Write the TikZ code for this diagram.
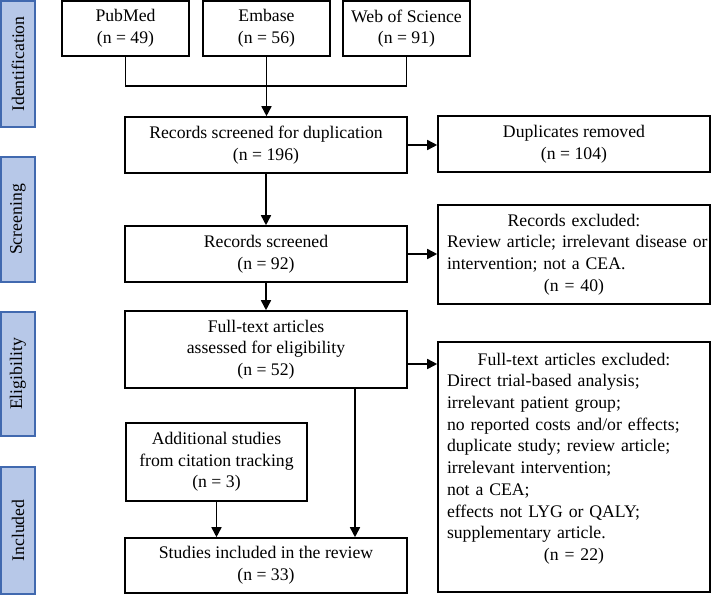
\documentclass[tikz,border=0pt]{standalone}
\usepackage{fontspec}
\setmainfont{Liberation Serif}
\usetikzlibrary{arrows.meta}
\definecolor{barfill}{RGB}{183,200,232}
\definecolor{barline}{RGB}{65,105,175}
\begin{document}
\begin{tikzpicture}[x=1pt,y=-1pt,
  font=\fontsize{17.7}{21.7}\selectfont,
  box/.style={draw, line width=1.6pt, inner sep=0pt, align=center},
  bar/.style={draw=barline, fill=barfill, line width=1.6pt, inner sep=0pt, rotate=90, minimum height=34pt},
  arr/.style={line width=1.6pt, -{Triangle[length=10pt,width=10pt]}},
  link/.style={line width=1.6pt}]
\useasboundingbox (0,0) rectangle (711,595);

% side bars
\node[bar, minimum width=126pt] (bid) at (18,64) {Identification};
\node[bar, minimum width=125pt] (bsc) at (18,219.5) {Screening};
\node[bar, minimum width=124pt] (bel) at (18,374) {Eligibility};
\node[bar, minimum width=127pt] (bin) at (18,530.5) {Included};

% boxes
\node[box, minimum width=127pt, minimum height=55pt] (pub) at (125.5,28.5) {PubMed\\(n = 49)};
\node[box, minimum width=127pt, minimum height=55pt] (emb) at (266.5,28.5) {Embase\\(n = 56)};
\node[box, minimum width=127pt, minimum height=55pt] (wos) at (406.5,28.5) {Web of Science\\(n = 91)};
\node[box, minimum width=282pt, minimum height=56pt] (dup) at (266,145) {Records screened for duplication\\(n = 196)};
\node[box, minimum width=272pt, minimum height=56pt] (dupr) at (574,144) {Duplicates removed\\(n = 104)};
\node[box, minimum width=282pt, minimum height=56pt] (scr) at (266,254) {Records screened\\(n = 92)};
\node[box, minimum width=272pt, minimum height=99pt, text width=254pt, align=left] (excl) at (574,254.5)
  {\makebox[254pt][c]{Records excluded:}\\
   \mbox{Review article; irrelevant disease or}\\
   \mbox{intervention; not a CEA.}\\
   \makebox[254pt][c]{(n = 40)}};
\node[box, minimum width=282pt, minimum height=77pt] (full) at (266,349.5) {Full-text articles\\assessed for eligibility\\(n = 52)};
\node[box, minimum width=272pt, minimum height=250pt, text width=254pt, align=left] (ftex) at (574,467)
  {\makebox[254pt][c]{Full-text articles excluded:}\\
   \mbox{Direct trial-based analysis;}\\
   \mbox{irrelevant patient group;}\\
   \mbox{no reported costs and/or effects;}\\
   \mbox{duplicate study; review article;}\\
   \mbox{irrelevant intervention;}\\
   \mbox{not a CEA;}\\
   \mbox{effects not LYG or QALY;}\\
   \mbox{supplementary article.}\\
   \makebox[254pt][c]{(n = 22)}\\[-1pt]\mbox{}};
\node[box, minimum width=181pt, minimum height=78pt] (add) at (216.5,462) {Additional studies\\from citation tracking\\(n = 3)};
\node[box, minimum width=282pt, minimum height=55pt] (inc) at (266,565.5) {Studies included in the review\\(n = 33)};

% connectors
\coordinate (j) at (266.5,86);
\draw[link] (pub.south) |- (j) -| (wos.south);
\draw[arr] (emb.south) -- (emb.south |- dup.north);
\draw[arr] (dup.east) -- (dupr.west |- dup.east);
\draw[arr] (dup.south) -- (scr.north);
\draw[arr] (scr.east) -- (excl.west |- scr.east);
\draw[arr] (scr.south) -- (full.north);
\coordinate (fe) at ([yshift=-14.5pt]full.east);
\draw[arr] (fe) -- (fe -| ftex.west);
\coordinate (fs) at ([xshift=89pt]full.south);
\draw[arr] (fs) -- (fs |- inc.north);
\draw[arr] (add.south) -- (add.south |- inc.north);
\end{tikzpicture}
\end{document}
